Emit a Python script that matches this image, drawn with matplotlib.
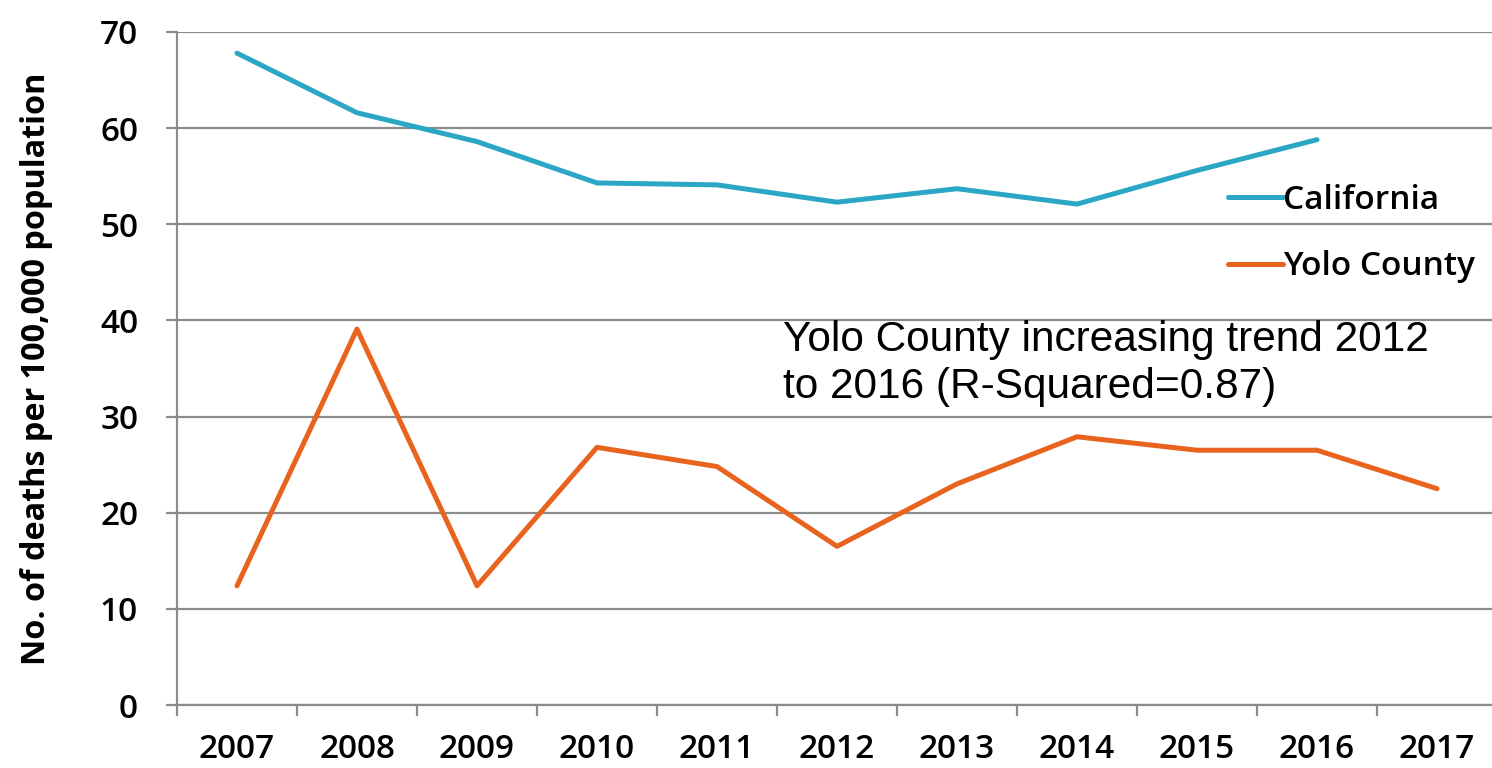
import matplotlib
matplotlib.use("Agg")
import matplotlib.pyplot as plt

years = ['2007', '2008', '2009', '2010', '2011', '2012', '2013', '2014', '2015', '2016', '2017']
california = [67.8, 61.6, 58.6, 54.3, 54.1, 52.3, 53.7, 52.1, 55.6, 58.8]
yolo = [12.4, 39.1, 12.4, 26.8, 24.8, 16.5, 23.0, 27.9, 26.5, 26.5, 22.5]

blue = '#2ba7c5'
orange = '#e8641e'
grid = '#8c8c8c'
lab_font = dict(family='Open Sans', weight='semibold')

fig = plt.figure(figsize=(14.92, 7.68), dpi=100)
ax = fig.add_axes([177 / 1492, 1 - 705 / 768, 1320 / 1492, 673 / 768])

x = range(len(years))
ax.plot(range(len(california)), california, color=blue, lw=3.6, label='California',
        solid_capstyle='round', solid_joinstyle='round')
ax.plot(x, yolo, color=orange, lw=3.6, label='Yolo County',
        solid_capstyle='round', solid_joinstyle='round')

ax.set_xlim(-0.5, len(years) - 0.5)
ax.set_ylim(0, 70)
ax.set_yticks(range(0, 71, 10))
ax.yaxis.grid(True, color=grid, lw=1.6)
ax.set_axisbelow(True)

# category labels sit between the boundary ticks
ax.set_xticks([i - 0.5 for i in range(len(years))])
ax.set_xticklabels([])
ax.set_xticks(list(x), minor=True)
ax.set_xticklabels(years, minor=True, fontsize=24, **lab_font)
ax.tick_params(axis='x', which='major', length=8, width=1.6, color=grid, direction='out')
ax.tick_params(axis='x', which='minor', length=0, pad=20)
ax.tick_params(axis='y', length=8, width=1.6, color=grid, pad=20)
for t in ax.get_yticklabels():
    t.set_fontsize(24)
    t.set_fontfamily('Open Sans')
    t.set_fontweight('semibold')

for s in ['top', 'right']:
    ax.spines[s].set_visible(False)
for s in ['left', 'bottom']:
    ax.spines[s].set_color(grid)
    ax.spines[s].set_linewidth(1.6)

ax.set_ylabel('No. of deaths per 100,000 population', fontsize=23.3, labelpad=34,
              family='Open Sans', weight='bold')

ax.legend(loc='upper left', bbox_to_anchor=(1198 / 1492, 1 - 154 / 768), bbox_transform=fig.transFigure,
          frameon=False, prop=dict(family='Open Sans', weight='semibold', size=24),
          handlelength=1.65, handletextpad=0.0, labelspacing=1.0)

ax.text(783 / 1492, 1 - 398 / 768,
        'Yolo County increasing trend 2012\nto 2016 (R-Squared=0.87)',
        transform=fig.transFigure, fontsize=30.5, family='Liberation Sans', linespacing=1.22)

fig.savefig('out.png', dpi=100)
